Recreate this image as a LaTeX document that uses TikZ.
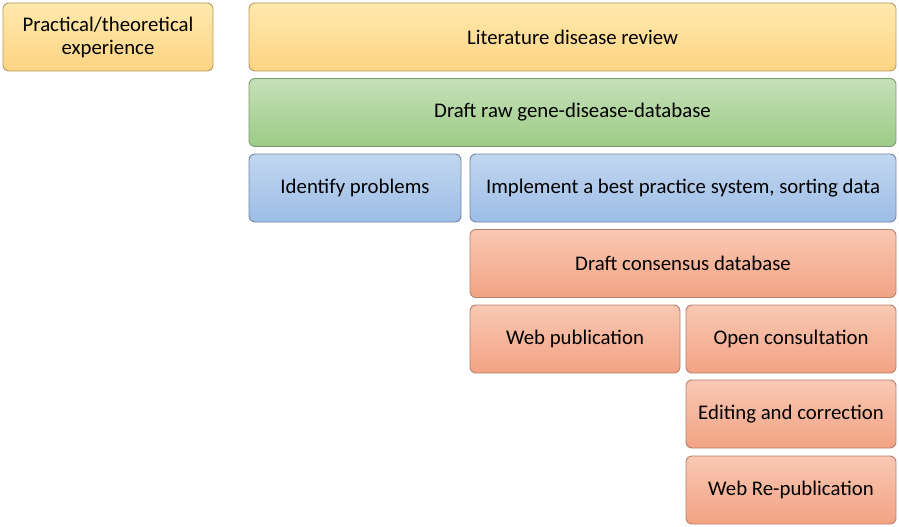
\documentclass[tikz,border=0pt]{standalone}
\usepackage{fontspec}
\setmainfont{Carlito}
\definecolor{ytop}{HTML}{FFE9AD}
\definecolor{ybot}{HTML}{FDD483}
\definecolor{yline}{HTML}{B89A5C}
\definecolor{gtop}{HTML}{C6E0B8}
\definecolor{gbot}{HTML}{9CCB86}
\definecolor{gline}{HTML}{7D9A6E}
\definecolor{btop}{HTML}{C2D6EF}
\definecolor{bbot}{HTML}{9DBDE6}
\definecolor{bline}{HTML}{6F87A8}
\definecolor{otop}{HTML}{F9C8B3}
\definecolor{obot}{HTML}{F2A384}
\definecolor{oline}{HTML}{B7806B}
\begin{document}
\begin{tikzpicture}[x=1pt,y=-1pt,
  font=\fontsize{20.8}{23}\selectfont,
  block/.style={draw, rounded corners=6pt, line width=0.9pt, align=center, inner sep=0pt, minimum height=68pt},
  yblock/.style={block, draw=yline, top color=ytop, bottom color=ybot},
  gblock/.style={block, draw=gline, top color=gtop, bottom color=gbot},
  bblock/.style={block, draw=bline, top color=btop, bottom color=bbot},
  oblock/.style={block, draw=oline, top color=otop, bottom color=obot}]
\useasboundingbox (0,0) rectangle (899,527);

% Row 1: sources
\node[yblock, minimum width=210pt] (prac) at (108,37) {Practical/theoretical\\experience};
\node[yblock, minimum width=647pt] (lit) at (572.5,37) {Literature disease review};

% Row 2: raw database
\node[gblock, minimum width=647pt] (raw) at (572.5,112.5) {Draft raw gene-disease-database};

% Row 3: sorting
\node[bblock, minimum width=212pt] (ident) at (355,188) {Identify problems};
\node[bblock, minimum width=426pt] (impl) at (683,188) {Implement a best practice system, sorting data};

% Row 4 and below: consensus and publication
\node[oblock, minimum width=426pt] (cons) at (683,263.5) {Draft consensus database};
\node[oblock, minimum width=210pt] (webpub) at (575,339) {Web publication};
\node[oblock, minimum width=210pt] (open) at (791,339) {Open consultation};
\node[oblock, minimum width=210pt] (edit) at (791,414) {Editing and correction};
\node[oblock, minimum width=210pt] (repub) at (791,490) {Web Re-publication};

\end{tikzpicture}
\end{document}
